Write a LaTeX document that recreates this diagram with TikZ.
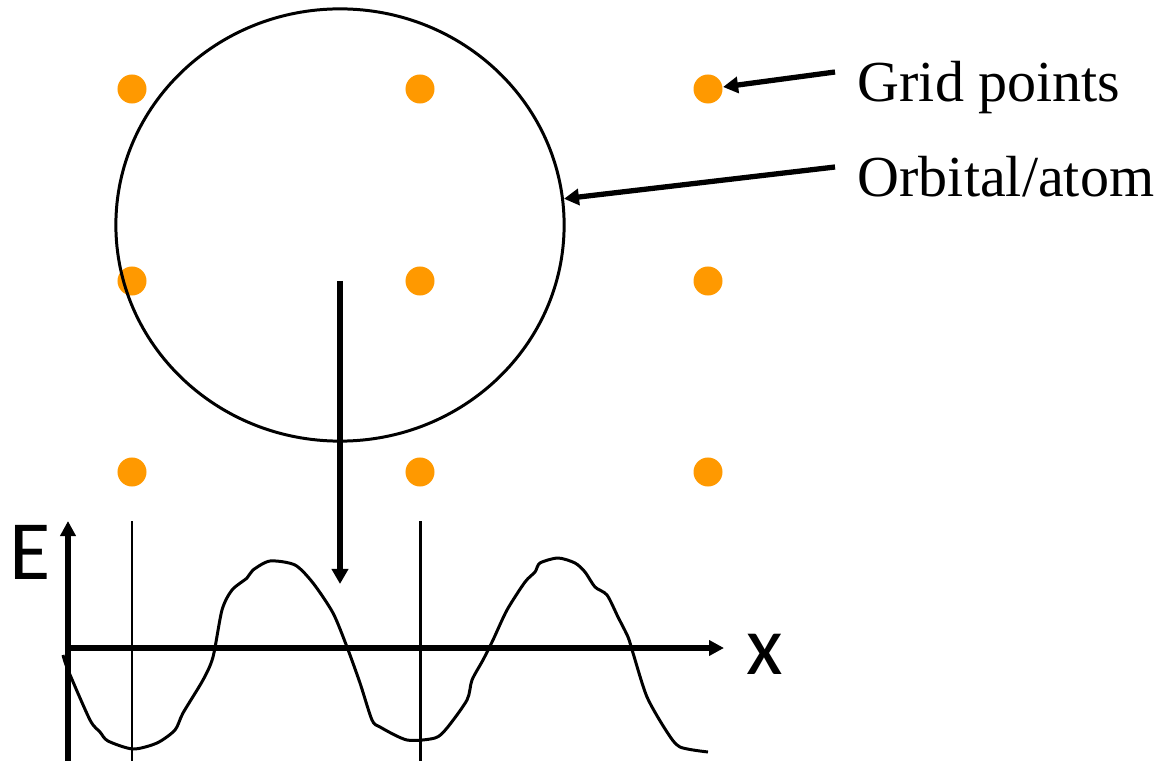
\documentclass[tikz,border=0pt]{standalone}
\usepackage{fontspec}
\setmainfont{Liberation Serif}
\newfontfamily\axisfont{Carlito}
\usetikzlibrary{arrows.meta,shapes.geometric}
\definecolor{dotorange}{RGB}{255,153,0}
\tikzset{
  gridpt/.style={circle, fill=dotorange, minimum size=0.29cm, inner sep=0pt},
  thickarrow/.style={line width=1.5pt, -{Triangle[length=0.15cm, width=0.16cm]}},
  axisarrow/.style={line width=1.7pt, -{Triangle[length=0.15cm, width=0.15cm]}},
  thinline/.style={line width=0.85pt},
  labeltext/.style={inner sep=0pt, font=\fontsize{16.5}{19}\selectfont},
  axislabel/.style={inner sep=0pt, font=\axisfont\fontsize{24}{28}\selectfont}
}
\begin{document}
\begin{tikzpicture}[x=0.01cm, y=-0.01cm]
\useasboundingbox (0,0) rectangle (1161,761);

\foreach \c/\x in {1/132, 2/420, 3/708}
  \foreach \r/\y in {1/89, 2/281, 3/472}
    \node[gridpt] (g\r\c) at (\x,\y) {};

\node[draw, ellipse, line width=0.85pt, minimum width=4.48cm, minimum height=4.32cm, inner sep=0pt] (orb) at (340,225) {};

\node[labeltext, anchor=base west] (gridlab) at (857,102) {Grid points};
\node[labeltext, anchor=base west] (orblab) at (857,197) {Orbital/atom};
\coordinate (gtail) at (835,72);
\coordinate (otail) at (835,167);
\draw[thickarrow] (gtail) -- (g13);
\draw[thickarrow] (otail) -- (orb);

\coordinate (dstart) at (340,281);
\coordinate (dend) at (340,584);
\draw[thickarrow, line width=1.8pt] (dstart) -- (dend);

\draw[thinline] (132,521) -- (132,761);
\draw[thinline] (420,521) -- (420,761);

\coordinate (ebot) at (68,761);
\coordinate (etop) at (68,521);
\coordinate (xleft) at (66,648);
\coordinate (xright) at (724,648);
\draw[axisarrow] (ebot) -- (etop);
\draw[axisarrow] (xleft) -- (xright);
\node[axislabel, anchor=base] (elab) at (30,579) {E};
\node[axislabel, anchor=base] (xlab) at (765,674) {x};

\draw[thinline] plot[smooth, tension=0.45] coordinates {
  (63,655) (68,670) (90,720) (100,732) (108,741) (133,749) (157,743)
  (175,730) (183,713) (203,680) (213,657) (222,610) (232,590) (247,578)
  (253,570) (270,561) (295,565) (313,583) (333,613) (347,647) (360,683)
  (372,720) (380,727) (407,740) (435,738) (447,728) (467,700) (472,680)
  (483,660) (493,640) (507,610) (525,582) (535,572) (540,563) (558,558)
  (575,563) (585,572) (595,587) (607,595) (618,617) (628,637) (633,653)
  (647,697) (667,732) (680,747) (708,752)};
\end{tikzpicture}
\end{document}
